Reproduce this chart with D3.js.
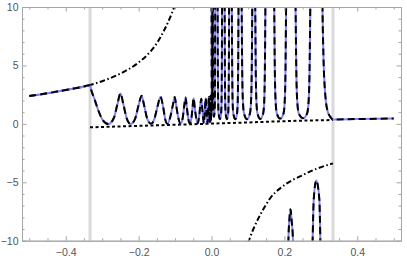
<!DOCTYPE html>
<html>
<head>
<meta charset="utf-8">
<script src="https://cdn.jsdelivr.net/npm/d3@7"></script>
<style>
  body { margin: 0; background: #fff; }
  text { font-family: "Liberation Sans", Arial, sans-serif; }
</style>
</head>
<body>
<div id="chart"></div>
<script>
// values, [x, y]
const xTicks = [-0.4, -0.2, 0.0, 0.2, 0.4];
const yTicks = [-10, -5, 0, 5, 10];
const walls = [-1 / 3, 1 / 3];

const dashDotLeft = [[-0.5, 2.38], [-0.45, 2.62], [-0.4, 2.9], [-0.3333, 3.32], [-0.3, 3.65],
    [-0.25, 4.3], [-0.2, 5.25], [-0.17, 6.1], [-0.15, 6.9], [-0.13, 8.0], [-0.115, 9.0], [-0.1, 10.2]];
const dashDotRight = [[0.1, -10.2], [0.115, -9.0], [0.13, -8.0], [0.15, -6.9], [0.161, -6.37],
    [0.189, -5.5], [0.22, -4.85], [0.243, -4.5], [0.28, -3.95], [0.3333, -3.38]];

const dotted = [[-0.3333, -0.3], [-0.2, -0.17], [-0.1, -0.08], [0, 0.02], [0.1, 0.12],
    [0.2, 0.23], [0.3333, 0.33]];

const leftCurve = [[-0.5, 2.38], [-0.45, 2.62], [-0.4, 2.9], [-0.36, 3.12], [-0.3333, 3.3],
    [-0.3305, 2.95], [-0.322, 2.2], [-0.31, 1.1], [-0.298, 0.3], [-0.283, -0.02],
    [-0.268, 0.5], [-0.258, 1.7], [-0.25, 2.6], [-0.242, 1.7], [-0.233, 0.5], [-0.222, -0.02],
    [-0.21, 0.4], [-0.2, 1.6], [-0.192, 2.4], [-0.185, 1.6], [-0.176, 0.4], [-0.166, 0.0],
    [-0.157, 0.4], [-0.148, 1.5], [-0.14, 2.32], [-0.133, 1.5], [-0.127, 0.4], [-0.121, 0.0],
    [-0.113, 0.6], [-0.106, 1.6], [-0.101, 2.3], [-0.097, 1.6], [-0.091, 0.5], [-0.085, 0.02],
    [-0.079, 0.5], [-0.075, 1.5], [-0.071, 2.25], [-0.068, 1.5], [-0.064, 0.5], [-0.06, 0.03],
    [-0.055, 0.5], [-0.052, 1.4], [-0.049, 2.2], [-0.046, 1.4], [-0.042, 0.5], [-0.038, 0.03],
    [-0.034, 0.6], [-0.031, 1.5], [-0.028, 2.15], [-0.025, 1.2], [-0.021, 0.05], [-0.018, 1.2],
    [-0.016, 2.2], [-0.0135, 1.0], [-0.011, 0.05], [-0.009, 1.2], [-0.0075, 2.3], [-0.006, 1.0],
    [-0.0048, 0.1], [-0.0038, 1.2], [-0.003, 2.4], [-0.0022, 0.9], [-0.0015, 0.15], [-0.001, 1.5],
    [-0.0006, 2.4], [-0.0003, 0.6], [0, 1.0]];

// upward pockets between poles on 0 < x < 1/3
const pockets = [
    [[0.0001, 14], [0.0006, 3], [0.0014, 1.2], [0.0022, 3], [0.0028, 14]],
    [[0.0035, 14], [0.0042, 5], [0.0049, 1.5], [0.007, 0.6], [0.0091, 1.5], [0.0098, 5], [0.0105, 14]],
    [[0.016, 14], [0.0168, 10], [0.0174, 5], [0.0181, 2.2], [0.0195, 0.9], [0.0229, 0.4],
        [0.0264, 0.9], [0.0277, 2.2], [0.0284, 5], [0.029, 10], [0.0298, 14]],
    [[0.0353, 14], [0.0361, 10], [0.0367, 5], [0.0374, 2.2], [0.0388, 0.9], [0.0422, 0.4],
        [0.0457, 0.9], [0.047, 2.2], [0.0477, 5], [0.0483, 10], [0.0491, 14]],
    [[0.0546, 14], [0.0558, 10], [0.0567, 5], [0.0577, 2.2], [0.0598, 0.9], [0.065, 0.4],
        [0.0701, 0.9], [0.0722, 2.2], [0.0732, 5], [0.0741, 10], [0.0753, 14]],
    [[0.0808, 14], [0.0828, 10], [0.0841, 5], [0.0858, 2.2], [0.0891, 0.9], [0.0974, 0.4],
        [0.1056, 0.9], [0.1089, 2.2], [0.1106, 5], [0.1119, 10], [0.1139, 14]],
    [[0.1181, 14], [0.12, 10], [0.1213, 5], [0.1229, 2.2], [0.126, 0.9], [0.134, 0.42],
        [0.1419, 0.9], [0.145, 2.2], [0.1466, 5], [0.1479, 10], [0.1498, 14]],
    [[0.1699, 14], [0.1721, 10], [0.1736, 5], [0.1755, 2.2], [0.1792, 0.9], [0.1884, 0.45],
        [0.1977, 0.9], [0.2014, 2.2], [0.2032, 5], [0.2047, 10], [0.2069, 14]],
    [[0.2279, 14], [0.2307, 10], [0.2325, 5], [0.2348, 2.2], [0.2394, 0.9], [0.2509, 0.48],
        [0.2624, 0.9], [0.267, 2.2], [0.2693, 5], [0.2711, 10], [0.2739, 14]]
];

// downward arches that reach above -10
const arches = [
    [[0.209, -14], [0.211, -10], [0.2135, -8.3], [0.2168, -7.3], [0.22, -8.3], [0.2236, -10], [0.2255, -14]],
    [[0.275, -14], [0.2775, -10], [0.2805, -6.5], [0.2875, -4.85], [0.296, -6.5], [0.2988, -10], [0.302, -14]]
];

const rightTail = [[0.3029, 14], [0.3045, 10], [0.308, 4.9], [0.311, 3], [0.314, 1.9], [0.318, 1.15],
    [0.326, 0.6], [0.3333, 0.38], [0.4, 0.41], [0.45, 0.43], [0.5, 0.46]];

const margin = { top: 7, right: 6, bottom: 20.3, left: 22 };
const width = 407 - margin.left - margin.right;
const height = 261 - margin.top - margin.bottom;

const svg = d3.select("#chart")
    .append("svg")
    .attr("width", 407)
    .attr("height", 261)
    .append("g")
    .attr("transform", `translate(${margin.left}, ${margin.top})`);

const xScale = d3.scaleLinear().domain([-0.52, 0.52]).range([0, width]);
const yScale = d3.scaleLinear().domain([-10, 10]).range([height, 0]);

svg.append("clipPath").attr("id", "plot")
    .append("rect").attr("width", width).attr("height", height);

const plot = svg.append("g").attr("clip-path", "url(#plot)");

plot.selectAll(".wall")
    .data(walls)
    .enter()
    .append("line")
    .attr("x1", d => xScale(d))
    .attr("x2", d => xScale(d))
    .attr("y1", 0)
    .attr("y2", height)
    .attr("stroke", "#d9d9d9")
    .attr("stroke-width", 3);

const line = d3.line()
    .x(d => xScale(d[0]))
    .y(d => yScale(d[1]))
    .curve(d3.curveMonotoneX);

const mainSegments = [leftCurve, ...pockets, ...arches, rightTail];

plot.append("path")
    .attr("d", line(dotted))
    .attr("fill", "none")
    .attr("stroke", "#000")
    .attr("stroke-width", 2)
    .attr("stroke-dasharray", "3,2.5");

[dashDotLeft, dashDotRight].forEach(seg => {
    plot.append("path")
        .attr("d", line(seg))
        .attr("fill", "none")
        .attr("stroke", "#000")
        .attr("stroke-width", 2)
        .attr("stroke-dasharray", "5.5,2.5,1.5,2.5");
});

mainSegments.forEach(seg => {
    plot.append("path")
        .attr("d", line(seg))
        .attr("fill", "none")
        .attr("stroke", "#8080ff")
        .attr("stroke-width", 2);
});

mainSegments.forEach(seg => {
    plot.append("path")
        .attr("d", line(seg))
        .attr("fill", "none")
        .attr("stroke", "#000")
        .attr("stroke-width", 2)
        .attr("stroke-dasharray", "7,4");
});

// frame with inward ticks
const xMinor = d3.range(-10, 11).map(i => i * 0.05).filter(v => !xTicks.some(t => Math.abs(t - v) < 1e-6));
const yMinor = d3.range(-10, 11).filter(v => v % 5 !== 0);
const fmtX = d3.format(".1f");

function styleAxis(g) {
    g.select(".domain").attr("stroke", "#a6a6a6");
    g.selectAll(".tick line").attr("stroke", "#a6a6a6");
    g.selectAll(".tick text").attr("fill", "#555").style("font-size", "10.5px")
        .style("font-family", "'Liberation Sans', Arial, sans-serif");
}

svg.append("g")
    .attr("transform", `translate(0, ${height})`)
    .call(d3.axisBottom(xScale).tickValues(xTicks).tickFormat(fmtX).tickSize(-4.5).tickSizeOuter(0).tickPadding(7.5))
    .call(styleAxis);
svg.append("g")
    .attr("transform", `translate(0, ${height})`)
    .call(d3.axisBottom(xScale).tickValues(xMinor).tickFormat("").tickSize(-2.5).tickSizeOuter(0))
    .call(styleAxis);
svg.append("g")
    .call(d3.axisTop(xScale).tickValues(xTicks).tickFormat("").tickSize(-4.5).tickSizeOuter(0))
    .call(styleAxis);
svg.append("g")
    .call(d3.axisTop(xScale).tickValues(xMinor).tickFormat("").tickSize(-2.5).tickSizeOuter(0))
    .call(styleAxis);

svg.append("g")
    .call(d3.axisLeft(yScale).tickValues(yTicks).tickSize(-4.5).tickSizeOuter(0).tickPadding(3.5))
    .call(styleAxis);
svg.append("g")
    .call(d3.axisLeft(yScale).tickValues(yMinor).tickFormat("").tickSize(-2.5).tickSizeOuter(0))
    .call(styleAxis);
svg.append("g")
    .attr("transform", `translate(${width}, 0)`)
    .call(d3.axisRight(yScale).tickValues(yTicks).tickFormat("").tickSize(-4.5).tickSizeOuter(0))
    .call(styleAxis);
svg.append("g")
    .attr("transform", `translate(${width}, 0)`)
    .call(d3.axisRight(yScale).tickValues(yMinor).tickFormat("").tickSize(-2.5).tickSizeOuter(0))
    .call(styleAxis);
</script>
</body>
</html>
